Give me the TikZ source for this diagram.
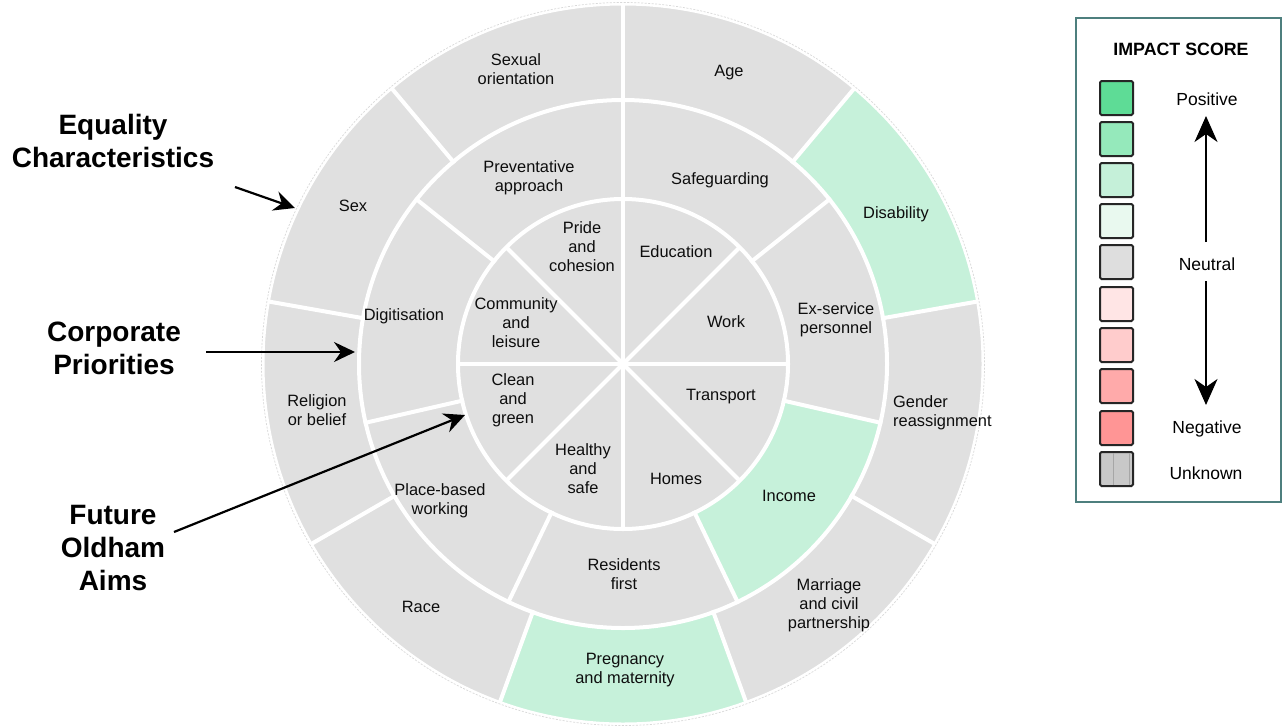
\documentclass[tikz,border=0pt]{standalone}
\usepackage{fontspec}
\setmainfont{Liberation Sans}
\usetikzlibrary{arrows.meta}
\definecolor{seg}{HTML}{E0E0E0}
\definecolor{posgreen}{HTML}{C6F1DA}
\definecolor{legframe}{HTML}{4E7F7E}
\definecolor{cA}{HTML}{5EDC96}
\definecolor{cB}{HTML}{95E9BB}
\definecolor{cC}{HTML}{C5F0D9}
\definecolor{cD}{HTML}{E9F9EF}
\definecolor{cE}{HTML}{DEDEDE}
\definecolor{cF}{HTML}{FFE5E5}
\definecolor{cG}{HTML}{FFCCCC}
\definecolor{cH}{HTML}{FFAAAA}
\definecolor{cI}{HTML}{FF9595}
\definecolor{cJ}{HTML}{C8C8C8}
\newcommand\annsec[5]{\fill[fill=#1] (#2:#4) arc[start angle=#2, end angle=#3, radius=#4] -- (#3:#5) arc[start angle=#3, end angle=#2, radius=#5] -- cycle;}
\begin{document}
\begin{tikzpicture}[x=1pt,y=-1pt,
  lbl/.style={font=\fontsize{16.4}{19}\selectfont, align=center, inner sep=0pt, text=black!95},
  big/.style={font=\fontsize{28}{33}\selectfont\bfseries, align=center, inner sep=0pt},
  leg/.style={font=\fontsize{17.5}{20}\selectfont, inner sep=0pt},
  sw/.style={draw=black!85, line width=2, minimum width=33pt, minimum height=34pt, rounded corners=1.5pt, inner sep=0pt},
  sep/.style={draw=white, line width=4},
  pointer/.style={-{Stealth[length=21pt,width=20pt,inset=7pt]}, line width=2.2},
  legarrow/.style={-{Stealth[length=26pt,width=23pt,inset=8pt]}, line width=2}]
\useasboundingbox (0,0) rectangle (1287,726);
\fill[white] (0,0) rectangle (1287,726);

% ---------- wheel ----------
\begin{scope}[shift={(623,364)}]
  \fill[seg] (0,0) circle[radius=360];
  \annsec{posgreen}{-10}{-50}{264}{360}
  \annsec{posgreen}{70}{110}{264}{360}
  \annsec{posgreen}{12.8571}{64.2857}{165}{264}
  \foreach \a in {90,50,...,-230} \draw[sep] ({-\a}:262) -- ({-\a}:363);
  \foreach \k in {0,...,6} \draw[sep] ({-(90-\k*360/7)}:163) -- ({-(90-\k*360/7)}:266);
  \foreach \a in {0,45,...,315} \draw[sep] (0,0) -- (\a:166);
  \draw[sep] (0,0) circle[radius=165];
  \draw[sep] (0,0) circle[radius=264];
  \draw[white, line width=3] (0,0) circle[radius=360];
  \draw[black!15, line width=0.7, dash pattern=on 2pt off 1.5pt] (0,0) circle[radius=361.5];
\end{scope}

% outer ring labels
\node[lbl] (so) at (516,69) {Sexual\\orientation};
\node[lbl] (age) at (729,72.5) {Age};
\node[lbl] (dis) at (896,214.5) {Disability};
\node[lbl, align=left, anchor=west] (gen) at (893,413) {Gender\\reassignment};
\node[lbl] (mar) at (829,605) {Marriage\\and civil\\partnership};
\node[lbl] (preg) at (625,670.5) {Pregnancy\\and maternity};
\node[lbl] (race) at (421,607) {Race};
\node[lbl] (rel) at (317,410.5) {Religion\\or belief};
\node[lbl] (sex) at (353,206) {Sex};

% middle ring labels
\node[lbl] (prev) at (529,177.5) {Preventative\\approach};
\node[lbl] (safe) at (720,180.5) {Safeguarding};
\node[lbl] (exs) at (836,319.5) {Ex-service\\personnel};
\node[lbl] (inc) at (789,496) {Income};
\node[lbl] (res) at (624,574.5) {Residents\\first};
\node[lbl] (place) at (440,500.5) {Place-based\\working};
\node[lbl] (dig) at (404,316.5) {Digitisation};

% inner labels
\node[lbl] (pride) at (582,247) {Pride\\and\\cohesion};
\node[lbl] (edu) at (676,252) {Education};
\node[lbl] (work) at (726,322) {Work};
\node[lbl] (trans) at (721,396.5) {Transport};
\node[lbl] (homes) at (676,479) {Homes};
\node[lbl] (healthy) at (583,469) {Healthy\\and\\safe};
\node[lbl] (clean) at (513,400) {Clean\\and\\green};
\node[lbl] (comm) at (516,323) {Community\\and\\leisure};

% ---------- left captions ----------
\node[big] (eq) at (113,141) {Equality\\Characteristics};
\node[big] (cp) at (114,348) {Corporate\\Priorities};
\node[big] (fo) at (113,548) {Future\\Oldham\\Aims};
\coordinate (eqS) at (235,187);
\coordinate (eqT) at (295,208);
\coordinate (cpS) at (206,352);
\coordinate (cpT) at (355,352);
\coordinate (foS) at (174,532);
\coordinate (foT) at (465,415);
\draw[pointer] (eqS) -- (eqT);
\draw[pointer] (cpS) -- (cpT);
\draw[pointer] (foS) -- (foT);

% ---------- legend ----------
\draw[legframe, line width=2.5] (1076,18) rectangle (1281,502);
\node[leg, font=\fontsize{17.8}{20}\selectfont\bfseries] (title) at (1181,49.5) {IMPACT SCORE};
\node[sw, fill=cA] (s1) at (1116.5,98) {};
\node[sw, fill=cB] (s2) at (1116.5,139) {};
\node[sw, fill=cC] (s3) at (1116.5,180) {};
\node[sw, fill=cD] (s4) at (1116.5,221) {};
\node[sw, fill=cE] (s5) at (1116.5,262) {};
\node[sw, fill=cF] (s6) at (1116.5,304) {};
\node[sw, fill=cG] (s7) at (1116.5,345) {};
\node[sw, fill=cH] (s8) at (1116.5,386) {};
\node[sw, fill=cI] (s9) at (1116.5,428) {};
\node[sw, fill=cJ] (s10) at (1116.5,469) {};
\draw[black!35, line width=1] (1113,453) -- (1113,485);
\draw[black!35, line width=1] (1129,453) -- (1129,485);
\node[leg] (lpos) at (1207,99) {Positive};
\node[leg] (lneu) at (1207,264) {Neutral};
\node[leg] (lneg) at (1207,429) {Negative};
\node[leg] (lunk) at (1206,473) {Unknown};
\coordinate (upS) at (1206,242);
\coordinate (upT) at (1206,116);
\coordinate (dnS) at (1206,281);
\coordinate (dnT) at (1206,405);
\draw[legarrow] (upS) -- (upT);
\draw[legarrow] (dnS) -- (dnT);
\end{tikzpicture}
\end{document}
